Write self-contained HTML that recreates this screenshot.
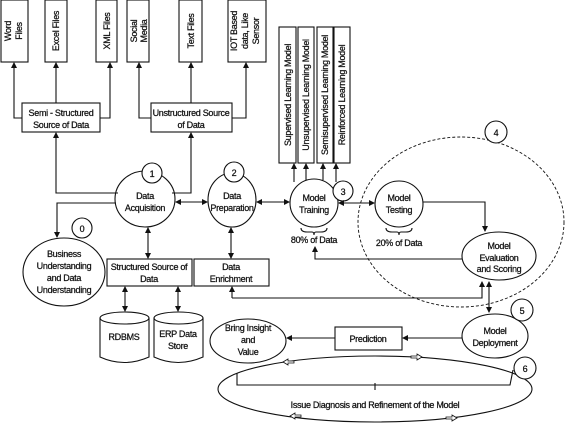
<!DOCTYPE html>
<html><head><meta charset="utf-8"><style>html,body{margin:0;padding:0;background:#fff}svg{display:block}text{font-family:"Liberation Sans",sans-serif;font-size:9px;fill:#111;stroke:#111;stroke-width:0.25;letter-spacing:-0.3px}</style></head><body>
<svg width="567" height="423" viewBox="0 0 567 423" xmlns="http://www.w3.org/2000/svg">
<defs><marker id="a" markerWidth="6" markerHeight="6" refX="5" refY="3" orient="auto-start-reverse" markerUnits="userSpaceOnUse"><path d="M0,0 L6,3 L0,6z" fill="#111"/></marker></defs>
<g fill="none" stroke="#111" stroke-width="1.1">
<rect x="1" y="0" width="27" height="62"/><rect x="45" y="0" width="22" height="62"/><rect x="96" y="0" width="21" height="62"/>
<rect x="127" y="0" width="22" height="62"/><rect x="179" y="0" width="23" height="62"/><rect x="228" y="0" width="38" height="62"/>
<rect x="22" y="103" width="78" height="29"/><rect x="151" y="103" width="81" height="29"/>
<path d="M22,118 H14 V63" marker-end="url(#a)"/><path d="M56,103 V63" marker-end="url(#a)"/><path d="M100,118 H110 V63" marker-end="url(#a)"/>
<path d="M151,118 H139 V63" marker-end="url(#a)"/><path d="M191,103 V63" marker-end="url(#a)"/><path d="M232,118 H246 V63" marker-end="url(#a)"/>
<path d="M118,193 H56 V133" marker-end="url(#a)"/><path d="M172,193 H191 V133" marker-end="url(#a)"/>
<ellipse cx="145" cy="199" rx="30" ry="28"/><circle cx="152" cy="173" r="10" fill="#fff"/>
<ellipse cx="232" cy="200" rx="24" ry="27"/><circle cx="234" cy="172" r="10" fill="#fff"/>
<circle cx="314" cy="203" r="24"/><circle cx="343" cy="191" r="10" fill="#fff"/>
<ellipse cx="399" cy="204" rx="24" ry="23"/>
<path d="M176,202 H207" marker-start="url(#a)" marker-end="url(#a)"/>
<path d="M257,202 H289" marker-start="url(#a)" marker-end="url(#a)"/>
<path d="M339,203 H374" marker-start="url(#a)" marker-end="url(#a)"/>
<rect x="279" y="27" width="17" height="136"/><rect x="298" y="27" width="16" height="136"/><rect x="317" y="27" width="16" height="136"/><rect x="334" y="27" width="16" height="136"/>
<path d="M294,182 V164" marker-end="url(#a)"/><path d="M306,180 V164" marker-end="url(#a)"/><path d="M323,180 V164" marker-end="url(#a)"/><path d="M336,182 V164" marker-end="url(#a)"/>
<path d="M423,202 H485 V231" marker-end="url(#a)"/>
<path d="M301,228 q0,4 6,4 h5 q2,0 2,3 q0,-3 2,-3 h5 q6,0 6,-4"/>
<path d="M386,228 q0,4 6,4 h5 q2,0 2,3 q0,-3 2,-3 h5 q6,0 6,-4"/>
<ellipse cx="461" cy="222" rx="103" ry="85" stroke-dasharray="3,2" stroke-width="0.9"/>
<circle cx="496" cy="132" r="11" fill="#fff"/>
<ellipse cx="499" cy="256" rx="37" ry="24" fill="#fff"/>
<path d="M462,259 H315 V247" marker-end="url(#a)"/>
<path d="M232,298 H482 V282" marker-end="url(#a)"/>
<path d="M232,298 V287" marker-end="url(#a)"/>
<path d="M489,282 V312" marker-start="url(#a)" marker-end="url(#a)"/>
<ellipse cx="495" cy="336" rx="33" ry="22"/><circle cx="522" cy="310" r="11" fill="#fff"/>
<rect x="335" y="327" width="67" height="23"/>
<path d="M462,338 H403" marker-end="url(#a)"/><path d="M335,338 H287" marker-end="url(#a)"/>
<ellipse cx="248" cy="341" rx="38" ry="22"/>
<ellipse cx="375" cy="389" rx="157" ry="33"/>
<path d="M237,373 V385 H510 L513,370"/><path d="M375,383 V390"/>
<circle cx="525" cy="368" r="11" fill="#fff"/>
<ellipse cx="64" cy="272" rx="41" ry="34"/><circle cx="82" cy="228" r="10" fill="#fff"/>
<path d="M116,203 H57 V237" marker-end="url(#a)"/>
<rect x="107" y="259" width="85" height="27"/><rect x="194" y="259" width="75" height="27"/>
<path d="M148,228 V258" marker-start="url(#a)" marker-end="url(#a)"/>
<path d="M231,228 V258" marker-start="url(#a)" marker-end="url(#a)"/>
<path d="M125,287 V311" marker-start="url(#a)" marker-end="url(#a)"/>
<path d="M178,287 V311" marker-start="url(#a)" marker-end="url(#a)"/>
<path d="M100,318 V357 Q124,368 149,357 V318"/><ellipse cx="124.5" cy="318" rx="24.5" ry="6" fill="#fff"/>
<path d="M154,318 V357 Q178,368 203,357 V318"/><ellipse cx="178.5" cy="318" rx="24.5" ry="6" fill="#fff"/>
</g>
<g fill="#fff" stroke="#111" stroke-width="0.8">
<path d="M283,362 l5,-3 v2 h6 v2 h-6 v2z"/><path d="M422,357 l-5,-3 v2 h-6 v2 h6 v2z"/>
<path d="M290,416 l5,-3 v2 h6 v2 h-6 v2z"/><path d="M457,418 l-5,-3 v2 h-6 v2 h6 v2z"/>
</g>
<g text-anchor="middle">
<text transform="translate(11,31) rotate(-90)">Word</text><text transform="translate(22,31) rotate(-90)">Files</text>
<text transform="translate(59,31) rotate(-90)">Excel Files</text>
<text transform="translate(110,31) rotate(-90)">XML Files</text>
<text transform="translate(137,31) rotate(-90)">Social</text><text transform="translate(147,31) rotate(-90)">Media</text>
<text transform="translate(194,31) rotate(-90)">Text Files</text>
<text transform="translate(237,31) rotate(-90)">IOT Based</text><text transform="translate(248,31) rotate(-90)">data, Like</text><text transform="translate(259,31) rotate(-90)">Sensor</text>
<text transform="translate(291,95) rotate(-90)">Supervised Learning Model</text>
<text transform="translate(309,95) rotate(-90)">Unsupervised Learning Model</text>
<text transform="translate(328,95) rotate(-90)">Semisupervised Learning Model</text>
<text transform="translate(345,95) rotate(-90)">Reinforced Learning Model</text>
<text x="61" y="116">Semi - Structured</text><text x="61" y="128">Source of Data</text>
<text x="191" y="116">Unstructured Source</text><text x="191" y="128">of Data</text>
<text x="152" y="177">1</text><text x="234" y="176">2</text><text x="343" y="195">3</text><text x="496" y="136">4</text><text x="522" y="314">5</text><text x="525" y="372">6</text><text x="82" y="232">0</text>
<text x="145" y="199">Data</text><text x="145" y="211">Acquisition</text>
<text x="232" y="199">Data</text><text x="232" y="211">Preparation</text>
<text x="314" y="201">Model</text><text x="314" y="213">Training</text>
<text x="399" y="201">Model</text><text x="399" y="213">Testing</text>
<text x="314" y="243">80% of Data</text><text x="399" y="246">20% of Data</text>
<text x="499" y="249">Model</text><text x="499" y="261">Evaluation</text><text x="499" y="272">and Scoring</text>
<text x="495" y="334">Model</text><text x="495" y="346">Deployment</text>
<text x="368" y="342">Prediction</text>
<text x="248" y="331">Bring Insight</text><text x="248" y="343">and</text><text x="248" y="355">Value</text>
<text x="375" y="408">Issue Diagnosis and Refinement of the Model</text>
<text x="64" y="257">Business</text><text x="64" y="269">Understanding</text><text x="64" y="281">and Data</text><text x="64" y="293">Understanding</text>
<text x="149" y="270">Structured Source of</text><text x="149" y="282">Data</text>
<text x="231" y="270">Data</text><text x="231" y="282">Enrichment</text>
<text x="124" y="340">RDBMS</text>
<text x="178" y="337">ERP Data</text><text x="178" y="349">Store</text>
</g>
</svg>
</body></html>
